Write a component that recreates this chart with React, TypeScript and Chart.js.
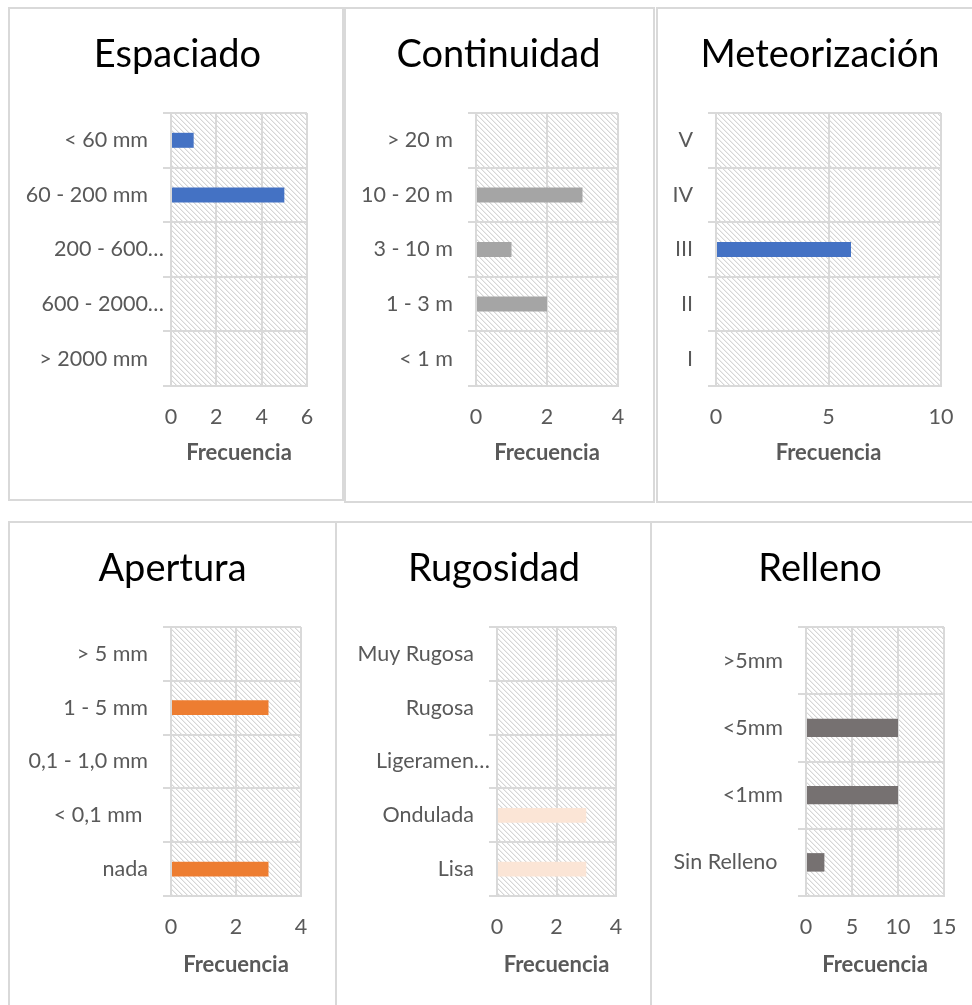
import React, { useEffect, useRef } from "react";
import { Chart, registerables } from "chart.js";

Chart.register(...registerables);

// ---- Espaciado ----
const espaciadoLabels = ["< 60 mm", "60 - 200 mm", "200 - 600…", "600 - 2000…", "> 2000 mm"];
const espaciadoValues = [1, 5, 0, 0, 0];
const espaciadoTicks = [0, 2, 4, 6];

// ---- Continuidad ----
const continuidadLabels = ["> 20 m", "10 - 20 m", "3 - 10 m", "1 - 3 m", "< 1 m"];
const continuidadValues = [0, 3, 1, 2, 0];
const continuidadTicks = [0, 2, 4];

// ---- Meteorización ----
const meteorizacionLabels = ["V", "IV", "III", "II", "I"];
const meteorizacionValues = [0, 0, 6, 0, 0];
const meteorizacionTicks = [0, 5, 10];

// ---- Apertura ----
const aperturaLabels = ["> 5 mm", "1 - 5 mm", "0,1 - 1,0 mm", "< 0,1 mm ", "nada"];
const aperturaValues = [0, 3, 0, 0, 3];
const aperturaTicks = [0, 2, 4];

// ---- Rugosidad ----
const rugosidadLabels = ["Muy Rugosa", "Rugosa", "Ligeramen…", "Ondulada", "Lisa"];
const rugosidadValues = [0, 0, 0, 3, 3];
const rugosidadTicks = [0, 2, 4];

// ---- Relleno ----
const rellenoLabels = [">5mm", "<5mm", "<1mm", "Sin Relleno "];
const rellenoValues = [0, 10, 10, 2];
const rellenoTicks = [0, 5, 10, 15];

const AXIS_TITLE = "Frecuencia";

// ---- styling ----
const FONT = "Lato, 'DejaVu Sans', sans-serif";
const TITLE_SIZE = 38;
const TITLE_LH = TITLE_SIZE * 1.2;
const TICK_SIZE = 21.5;
const TICK_LH = TICK_SIZE * 1.2;
const AXIS_TITLE_SIZE = 22;
const AXIS_TITLE_LH = AXIS_TITLE_SIZE * 1.2;
const TEXT_GREY = "#595959";
const GRID = "#D9D9D9";
const FRAME = "#D9D9D9";
const TICK_LEN = 8;

type Panel = {
  title: string;
  labels: string[];
  values: number[];
  ticks: number[];
  color: string;
  box: [number, number, number, number]; // left, top, width, height
  plot: [number, number, number, number]; // left, top, right, bottom
  titleX: number;
  titleY: number;
  tickY: number;
  axisTitleY: number;
};

const ROW1 = { titleY: 55, tickY: 417, axisTitleY: 453 };
const ROW2 = { titleY: 569, tickY: 927, axisTitleY: 964.5 };

const panels: Panel[] = [
  {
    title: "Espaciado", labels: espaciadoLabels, values: espaciadoValues, ticks: espaciadoTicks,
    color: "#4472C4", box: [8, 7, 336, 494], plot: [171, 113, 307, 386], titleX: 177.5, ...ROW1,
  },
  {
    title: "Continuidad", labels: continuidadLabels, values: continuidadValues, ticks: continuidadTicks,
    color: "#A5A5A5", box: [344, 7, 311, 496], plot: [476, 113, 618, 386], titleX: 498.5, ...ROW1,
  },
  {
    title: "Meteorización", labels: meteorizacionLabels, values: meteorizacionValues, ticks: meteorizacionTicks,
    color: "#4472C4", box: [656, 7, 332, 496], plot: [716, 113, 941, 386], titleX: 820, ...ROW1,
  },
  {
    title: "Apertura", labels: aperturaLabels, values: aperturaValues, ticks: aperturaTicks,
    color: "#ED7D31", box: [8, 521, 329, 492], plot: [171, 627, 301, 896], titleX: 172.5, ...ROW2,
  },
  {
    title: "Rugosidad", labels: rugosidadLabels, values: rugosidadValues, ticks: rugosidadTicks,
    color: "#FBE5D6", box: [335, 521, 317, 492], plot: [497, 627, 616, 896], titleX: 494, ...ROW2,
  },
  {
    title: "Relleno", labels: rellenoLabels, values: rellenoValues, ticks: rellenoTicks,
    color: "#767171", box: [650, 521, 338, 492], plot: [806, 627, 944, 896], titleX: 820, ...ROW2,
  },
];

// light downward-diagonal hatch tile for the plot background
function makeHatchTile(): HTMLCanvasElement {
  const p = 5;
  const tile = document.createElement("canvas");
  tile.width = p;
  tile.height = p;
  const g = tile.getContext("2d")!;
  const img = g.createImageData(p, p);
  for (let y = 0; y < p; y++) {
    for (let x = 0; x < p; x++) {
      const d = (((x - y) % p) + p) % p;
      const v = d === 0 ? 214 : d === 1 ? 238 : 255;
      const i = (y * p + x) * 4;
      img.data[i] = v;
      img.data[i + 1] = v;
      img.data[i + 2] = v;
      img.data[i + 3] = 255;
    }
  }
  g.putImageData(img, 0, 0);
  return tile;
}

const hatchPlugin = {
  id: "hatchBackground",
  beforeDraw(chart: any) {
    const { ctx, chartArea: a } = chart;
    const pattern = ctx.createPattern(makeHatchTile(), "repeat");
    ctx.save();
    ctx.fillStyle = pattern;
    ctx.fillRect(a.left, a.top, a.right - a.left, a.bottom - a.top);
    ctx.restore();
  },
};

// category labels: shortened ones sit closer to the axis
const categoryLabelPlugin = {
  id: "categoryLabels",
  afterDraw(chart: any) {
    const { ctx } = chart;
    const s = chart.scales.y;
    const labels = chart.data.labels as string[];
    ctx.save();
    ctx.font = `${TICK_SIZE}px ${FONT}`;
    ctx.fillStyle = TEXT_GREY;
    ctx.textAlign = "right";
    ctx.textBaseline = "middle";
    labels.forEach((lab, i) => {
      const y = s.getPixelForValue(i);
      const x = s.right - (lab.endsWith("…") ? 7 : 23);
      ctx.fillText(lab, x, y);
    });
    ctx.restore();
  },
};

function BarPanel({ panel }: { panel: Panel }) {
  const ref = useRef<HTMLCanvasElement>(null);
  const [L, T, W, H] = panel.box;

  useEffect(() => {
    const canvas = ref.current!;
    const [pl, pt, pr, pb] = panel.plot;
    const padR = L + W - pr;
    const padL = 2 * (panel.titleX - L) - W + padR;
    const yAxisW = pl - L - padL;
    const titlePadTop = panel.titleY - T - TITLE_LH / 2;
    const titlePadBottom = pt - T - titlePadTop - TITLE_LH;
    const xAxisH = T + H - pb;
    const tickPad = panel.tickY - pb - TICK_LH / 2;
    const axisTitlePadBottom = T + H - panel.axisTitleY - AXIS_TITLE_LH / 2;
    const tks = panel.ticks;

    const chart = new Chart(canvas, {
      type: "bar",
      data: {
        labels: panel.labels,
        datasets: [
          {
            data: panel.values,
            backgroundColor: panel.color,
            borderWidth: 0,
            categoryPercentage: 1,
            barPercentage: 0.275,
          },
        ],
      },
      options: {
        indexAxis: "y",
        animation: false,
        responsive: false,
        devicePixelRatio: 1,
        layout: { padding: { left: padL, right: padR, top: 0, bottom: 0 } },
        plugins: {
          legend: { display: false },
          tooltip: { enabled: false },
          title: {
            display: true,
            text: panel.title,
            color: "#000000",
            font: { family: FONT, size: TITLE_SIZE, weight: "normal" },
            padding: { top: titlePadTop, bottom: titlePadBottom },
          },
        },
        scales: {
          x: {
            type: "linear",
            min: tks[0],
            max: tks[tks.length - 1],
            ticks: {
              stepSize: tks[1] - tks[0],
              color: TEXT_GREY,
              font: { family: FONT, size: TICK_SIZE },
              padding: tickPad,
              maxRotation: 0,
            },
            grid: { color: GRID, lineWidth: 2, drawTicks: false },
            border: { display: true, color: GRID, width: 2 },
            title: {
              display: true,
              text: AXIS_TITLE,
              color: TEXT_GREY,
              font: { family: FONT, size: AXIS_TITLE_SIZE, weight: "bold" },
              padding: { top: 0, bottom: axisTitlePadBottom },
            },
            afterFit(scale: any) {
              scale.height = xAxisH;
            },
          },
          y: {
            type: "category",
            offset: true,
            ticks: { display: false },
            grid: { color: GRID, lineWidth: 2, drawTicks: true, tickLength: TICK_LEN, offset: true },
            border: { display: true, color: GRID, width: 2 },
            afterFit(scale: any) {
              scale.width = yAxisW;
            },
          },
        },
      },
      plugins: [hatchPlugin, categoryLabelPlugin],
    } as any);
    return () => chart.destroy();
  }, [panel]);

  return (
    <div style={{ position: "absolute", left: L, top: T, width: W, height: H }}>
      <canvas ref={ref} width={W} height={H} style={{ position: "absolute", left: 0, top: 0 }} />
      <div
        style={{
          position: "absolute",
          left: 0,
          top: 0,
          width: W,
          height: H,
          boxSizing: "border-box",
          border: `2px solid ${FRAME}`,
          pointerEvents: "none",
        }}
      />
    </div>
  );
}

export default function App() {
  return (
    <div
      style={{
        position: "fixed",
        left: 0,
        top: 0,
        width: 972,
        height: 1005,
        overflow: "hidden",
        background: "#ffffff",
      }}
    >
      {panels.map((p) => (
        <BarPanel key={p.title} panel={p} />
      ))}
    </div>
  );
}
